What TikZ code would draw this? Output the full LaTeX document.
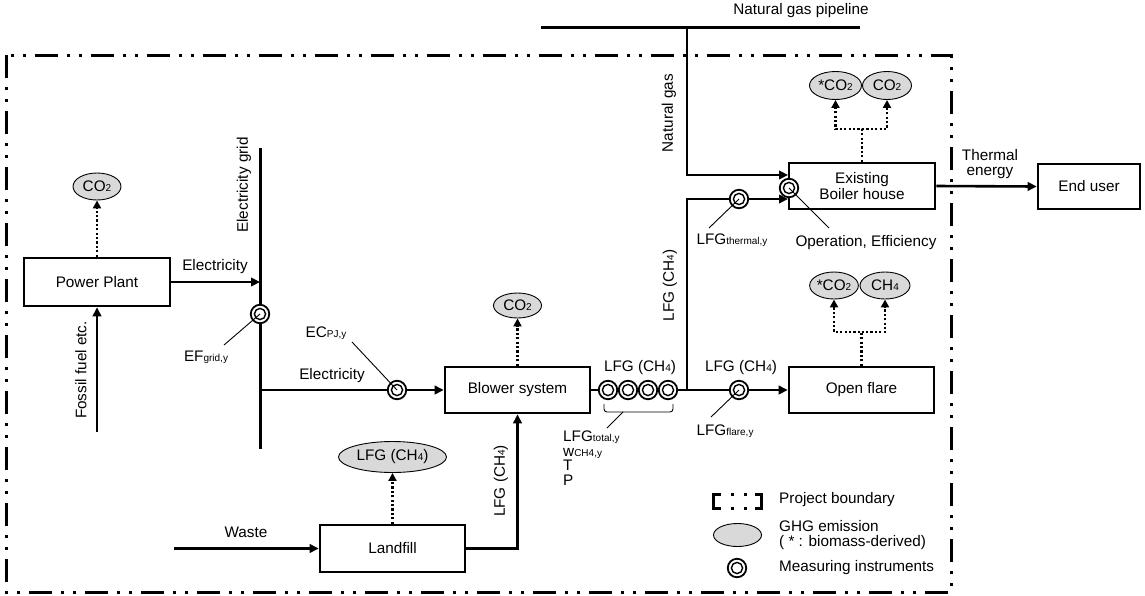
\documentclass[tikz,border=0pt]{standalone}
\usepackage{fontspec}
\setmainfont{Liberation Sans}
\usetikzlibrary{arrows.meta,shapes.geometric}
\definecolor{ghgray}{RGB}{217,217,217}
\newcommand\fs{\fontsize{15.3}{15.6}\selectfont}
\newcommand\mysub[1]{{\fontsize{10}{10}\selectfont #1}}
\begin{document}
\begin{tikzpicture}[x=1pt,y=-1pt,font=\fs,
  box/.style={draw, line width=2.6pt, inner sep=0pt, align=center},
  ghg/.style={draw, ellipse, fill=ghgray, line width=0.9pt, inner sep=0pt},
  meter/.style={circle, draw, fill=white, line width=1.8pt, minimum size=18.5pt, inner sep=0pt,
    path picture={\draw[line width=1.4pt] (path picture bounding box.center) circle (5.6pt);}},
  pipe/.style={line width=2.6pt},
  flow/.style={pipe, -{Triangle[length=9pt,width=8.5pt]}},
  emit/.style={line width=2.2pt, dash pattern=on 2.2pt off 2.2pt, -{Triangle[length=8pt,width=8pt]}},
  lead/.style={line width=0.9pt},
  lbl/.style={inner sep=0pt},
  boundary/.style={line width=3pt, dash pattern=on 23pt off 9pt on 3pt off 9pt on 3pt off 9pt}]
\useasboundingbox (0,0) rectangle (1145,595);

% boxes
\node[box, minimum width=146pt, minimum height=48pt] (pp) at (97,282) {Power Plant};
\node[box, minimum width=145pt, minimum height=46pt] (blower) at (517.5,390) {Blower system};
\node[box, minimum width=145pt, minimum height=47pt] (landfill) at (392.5,548.5) {Landfill};
\node[box, minimum width=146pt, minimum height=46pt, font=\fontsize{15.3}{15.2}\selectfont] (boiler) at (862,186) {Existing\\Boiler house};
\node[box, minimum width=145pt, minimum height=46pt] (flare) at (861.5,390) {Open flare};
\node[box, minimum width=102pt, minimum height=45pt] (enduser) at (1089,186.5) {End user};

% GHG ellipses
\node[ghg, minimum width=48pt, minimum height=27pt] (ppco2) at (97,186.5) {CO\mysub{2}};
\node[ghg, minimum width=48pt, minimum height=25pt] (blco2) at (517.5,305.5) {CO\mysub{2}};
\node[ghg, minimum width=108pt, minimum height=31pt] (lfch4) at (392.5,457) {LFG (CH\mysub{4})};
\node[ghg, minimum width=52pt, minimum height=28pt] (bco2a) at (835.5,85.5) {*CO\mysub{2}};
\node[ghg, minimum width=49pt, minimum height=28pt] (bco2b) at (887,85.5) {CO\mysub{2}};
\node[ghg, minimum width=48pt, minimum height=27pt] (fco2) at (834,285.5) {*CO\mysub{2}};
\node[ghg, minimum width=50pt, minimum height=27pt] (fch4) at (885,285.5) {CH\mysub{4}};

% meters
\node[meter] (mEF) at (260,314) {};
\node[meter] (mEC) at (397,390) {};
\node[meter] (mT1) at (608,390) {};
\node[meter] (mT2) at (628,390) {};
\node[meter] (mT3) at (648,390) {};
\node[meter] (mT4) at (668,390) {};
\node[meter] (mTh) at (739,199) {};
\node[meter] (mFl) at (739,390) {};

% free ends
\coordinate (gridtop) at (260,148);
\coordinate (gridbot) at (260,449);
\coordinate (ff) at (97,432);
\coordinate (wst) at (174,548.5);
\coordinate (J) at (687,390);
\coordinate (pl1) at (541,27);
\coordinate (pl2) at (860,27);
\coordinate (ng) at (687,27);
\coordinate (ngin) at (788,175);
\coordinate (lfgin) at (788,199);
\coordinate (bs) at (862,129);
\coordinate (fsp) at (861.5,332);
\coordinate (lEF) at (224,345);
\coordinate (lEC) at (352,342);
\coordinate (lTh) at (709,228);
\coordinate (lBo) at (829,228);
\coordinate (lFl) at (711,417);
\coordinate (lBr) at (607,428);
\coordinate (br) at (623,412);

% grid and pipeline
\draw[line width=3pt] (gridtop) -- (mEF);
\draw[line width=3pt] (mEF) -- (gridbot);
\draw[line width=3pt] (pl1) -- (pl2);

% flows
\draw[flow] (pp.east) -- (pp.east -| gridtop);
\draw[flow] (ff) -- (pp.south);
\draw[pipe] (mEC -| gridtop) -- (mEC);
\draw[flow] (mEC) -- (blower.west);
\draw[flow] (wst) -- (landfill.west);
\draw[flow] (landfill.east) -| (blower.south);
\draw[pipe] (blower.east) -- (mT1);
\draw[pipe] (mT4) -- (J);
\draw[pipe] (J) |- (mTh);
\draw[flow] (mTh) -- (lfgin);
\draw[pipe] (J) -- (mFl);
\draw[flow] (mFl) -- (flare.west);
\draw[flow] (ng) |- (ngin);
\draw[flow] (boiler.east) -- (enduser.west);

% boiler meter on top of arrows
\node[meter] (mBo) at (789,188) {};

% emissions
\draw[emit] (pp.north) -- (ppco2.south);
\draw[emit] (blower.north) -- (blco2.south);
\draw[emit] (landfill.north) -- (lfch4.south);
\draw[emit] (boiler.north) -- (bs) -| (bco2a.south);
\draw[emit] (bs) -| (bco2b.south);
\draw[emit] (flare.north) -- (fsp) -| (fco2.south);
\draw[emit] (fsp) -| (fch4.south);

% leaders
\draw[lead] (mEF.center) -- (lEF);
\draw[lead] (mEC.center) -- (lEC);
\draw[lead] (mTh.center) -- (lTh);
\draw[lead] (mBo.center) -- (lBo);
\draw[lead] (mFl.center) -- (lFl);
\draw[lead] (br) -- (lBr);
\draw[lead, rounded corners=3pt] (604,404) -- (604,412) -- (673,412) -- (673,404);

% labels
\node[lbl] (tEl1) at (215,267) {Electricity};
\node[lbl] (tEl2) at (332,376) {Electricity};
\node[lbl, rotate=90] (tgrid) at (244,185) {Electricity grid};
\node[lbl, rotate=90] (tff) at (81,370) {Fossil fuel etc.};
\node[lbl] (tEF) at (206,357) {EF\mysub{grid,y}};
\node[lbl] (tEC) at (326,333) {EC\mysub{PJ,y}};
\node[lbl] (tWaste) at (246,532) {Waste};
\node[lbl, rotate=90] (tlfg1) at (501,481) {LFG (CH\mysub{4})};
\node[lbl] (tlfg2) at (640,368) {LFG (CH\mysub{4})};
\node[lbl] (tlfg3) at (741,368) {LFG (CH\mysub{4})};
\node[lbl, rotate=90] (tlfg4) at (670,285.5) {LFG (CH\mysub{4})};
\node[lbl, rotate=90] (tng) at (669,113) {Natural gas};
\node[lbl] (tpipe) at (801,11) {Natural gas pipeline};
\node[lbl, align=center, font=\fontsize{15.3}{15}\selectfont] (tTh) at (990,164.5) {Thermal\\energy};
\node[lbl] (tOp) at (866,243) {Operation, Efficiency};
\node[lbl] (tThm) at (732,240) {LFG\mysub{thermal,y}};
\node[lbl] (tFl) at (725,431) {LFG\mysub{flare,y}};
\node[lbl, anchor=north west, align=left, font=\fontsize{15.3}{14.5}\selectfont] (tTot) at (563,431) {LFG\mysub{total,y}\\w\mysub{CH4,y}\\T\\P};

% boundary
\draw[boundary] (6,55) rectangle (951,592);

% legend
\draw[line width=3pt] (721,494.5) -- (713.5,494.5) -- (713.5,508.5) -- (721,508.5);
\draw[line width=3pt] (755,494.5) -- (761.5,494.5) -- (761.5,508.5) -- (755,508.5);
\fill (730.5,493) rectangle (733.5,496);
\fill (743.5,493) rectangle (746.5,496);
\fill (730.5,507) rectangle (733.5,510);
\fill (743.5,507) rectangle (746.5,510);
\node[ghg, minimum width=48pt, minimum height=23pt] (lgell) at (737.5,535) {};
\node[meter] (lgmeter) at (737,568) {};
\node[lbl, anchor=west] (lg1) at (779,500) {Project boundary};
\node[lbl, anchor=west, align=left, font=\fontsize{15.3}{15.5}\selectfont] (lg2) at (779,535) {GHG emission\\( * : biomass-derived)};
\node[lbl, anchor=west] (lg3) at (779,568) {Measuring instruments};
\end{tikzpicture}
\end{document}
